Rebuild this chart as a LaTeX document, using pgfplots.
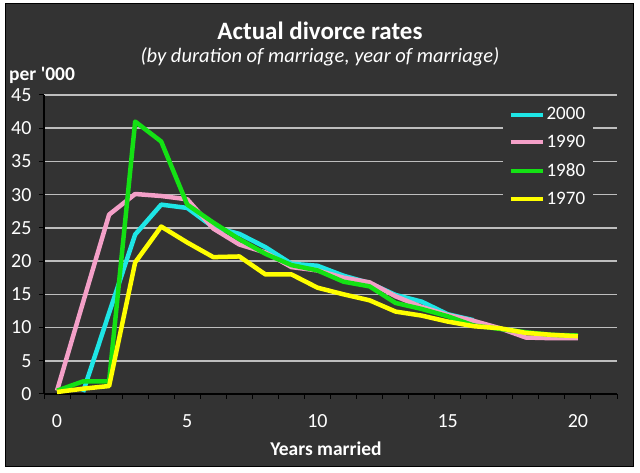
\documentclass[border=0pt]{standalone}
\usepackage{pgfplots}
\pgfplotsset{compat=1.18}
\usepackage{fontspec}
\setmainfont{Carlito}
\definecolor{bg}{RGB}{51,51,51}
\definecolor{gridc}{RGB}{190,190,190}
\definecolor{c2000}{RGB}{30,230,230}
\definecolor{c1990}{RGB}{244,160,200}
\definecolor{c1980}{RGB}{20,225,20}
\definecolor{c1970}{RGB}{255,255,0}
\begin{document}
\begin{tikzpicture}[x=1pt,y=1pt]
\fill[white] (0,0) rectangle (640,473);
\filldraw[fill=bg, draw=black, line width=1pt] (5,6) rectangle (633,469);
\node[font=\bfseries\fontsize{25}{30}\selectfont, text=white] at (320,442) {Actual divorce rates};
\node[font=\itshape\fontsize{20.5}{24}\selectfont, text=white] at (320,416) {(by duration of marriage, year of marriage)};
\node[font=\bfseries\fontsize{19.5}{22}\selectfont, text=white, anchor=west, inner sep=0pt] at (9,398) {per \textquotesingle000};
\begin{axis}[
  at={(44pt,79pt)}, anchor=south west,
  scale only axis, width=573pt, height=299pt,
  xmin=-0.5, xmax=21.5, ymin=0, ymax=45,
  axis x line=bottom, axis y line=left,
  axis line style={-, black, line width=1.5pt},
  ytick={0,5,...,45},
  xtick={-0.5,0.5,...,21.5},
  xticklabel=\empty,
  extra x ticks={0,5,10,15,20},
  extra x tick labels={0,5,10,15,20},
  extra x tick style={major tick length=0pt},
  tick align=outside,
  major tick length=5pt,
  tick style={black, line width=1pt},
  ymajorgrids,
  grid style={gridc, line width=1.5pt},
  /pgf/number format/assume math mode=true,
  ticklabel style={font=\fontsize{20}{22}\selectfont, text=white},
  yticklabel style={xshift=-4pt},
  xticklabel style={yshift=-17pt},
  clip=false,
  legend style={at={(0.8,0.975)}, anchor=north west, fill=bg, draw=none,
    font=\fontsize{19}{22}\selectfont, text=white, row sep=10pt,
    inner xsep=6pt, inner ysep=3pt},
  legend cell align=left,
  legend image code/.code={\draw[#1, line width=4pt] (0pt,0pt) -- (32pt,0pt);},
  every axis plot/.append style={line width=4.5pt, line join=round},
]
\addplot[c2000] coordinates {(1,0.3)(2,12.2)(3,24.0)(4,28.5)(5,28.0)(6,25.1)(7,24.1)(8,22.1)(9,19.6)(10,19.3)(11,17.8)(12,16.7)(13,14.9)(14,13.9)(15,12.0)(16,11.1)};
\addlegendentry{2000}
\addplot[c1990] coordinates {(0,0.5)(1,13.8)(2,27.0)(3,30.1)(4,29.8)(5,29.3)(6,24.9)(7,22.5)(8,21.3)(9,19.1)(10,18.6)(11,17.5)(12,16.8)(13,14.7)(14,13.1)(15,11.9)(16,11.0)(17,9.9)(18,8.5)(19,8.4)(20,8.4)};
\addlegendentry{1990}
\addplot[c1980] coordinates {(0,0.5)(1,1.9)(2,1.9)(3,41.0)(4,38.0)(5,28.5)(6,25.8)(7,23.3)(8,21.1)(9,19.4)(10,18.6)(11,16.9)(12,16.2)(13,13.7)(14,12.8)(15,11.7)(16,10.3)(17,9.8)(18,9.3)(19,8.9)(20,8.8)};
\addlegendentry{1980}
\addplot[c1970] coordinates {(0,0.3)(1,0.8)(2,1.2)(3,19.8)(4,25.2)(5,22.8)(6,20.6)(7,20.7)(8,18.0)(9,18.0)(10,16.0)(11,15.0)(12,14.1)(13,12.4)(14,11.8)(15,10.9)(16,10.2)(17,9.9)(18,9.2)(19,8.9)(20,8.7)};
\addlegendentry{1970}
\end{axis}
\node[font=\bfseries\fontsize{19.5}{22}\selectfont, text=white] at (326,24) {Years married};
\end{tikzpicture}
\end{document}
